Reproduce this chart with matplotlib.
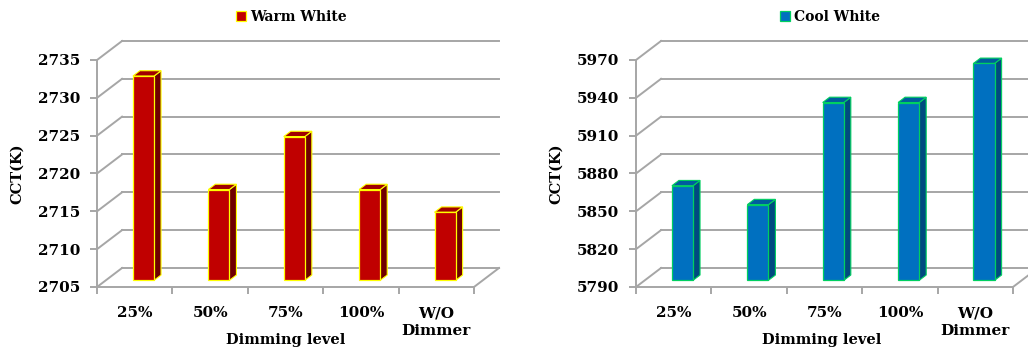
import matplotlib.pyplot as plt
from matplotlib.patches import Polygon

# CCT readings per dimming level
categories = ["25%", "50%", "75%", "100%", "W/O\nDimmer"]
warm_cct = [2732, 2717, 2724, 2717, 2714]
cool_cct = [5865, 5850, 5931, 5931, 5962]
warm_ticks = [2705, 2710, 2715, 2720, 2725, 2730, 2735]
cool_ticks = [5790, 5820, 5850, 5880, 5910, 5940, 5970]

plt.rcParams["font.family"] = "DejaVu Serif"
plt.rcParams["font.weight"] = "bold"

GRID = "#a6a6a6"
fig = plt.figure(figsize=(10.28, 3.52), dpi=100)


def draw_panel(rect, values, ticks, label, face, side, top, edge, xlab_x):
    ax = fig.add_axes(rect)
    n = len(values)
    ymin, ymax = ticks[0], ticks[-1]
    ax.set_xlim(0, n)
    ax.set_ylim(ymin, ymax)
    ax.patch.set_visible(False)

    # depth of the 3d box, 25 px right and 19 px up, in data units
    (px0, py0), (px1, py1) = ax.transData.transform([(0, ymin), (1, ymin + 1)])
    ddx = 25 / (px1 - px0)
    ddy = 19 / (py1 - py0)

    # back wall gridlines + side wall diagonals
    for t in ticks:
        ax.plot([ddx, n + ddx], [t + ddy, t + ddy], color=GRID, lw=1.4,
                clip_on=False, zorder=1)
        ax.plot([0, ddx], [t, t + ddy], color=GRID, lw=1.4,
                clip_on=False, zorder=1)
    # right edge of the floor
    ax.plot([n, n + ddx], [ymin, ymin + ddy], color=GRID, lw=1.4,
            clip_on=False, zorder=1)

    # bars sit between these depth fractions
    f0, f1 = 0.35, 0.63
    xs = [i + 0.5 + f0 * ddx for i in range(n)]
    bars = ax.bar(xs, [v - ymin for v in values], width=0.28,
                  bottom=ymin + f0 * ddy, color=face, edgecolor=edge,
                  linewidth=0.9, label=label, zorder=4, clip_on=False)
    bx, by = (f1 - f0) * ddx, (f1 - f0) * ddy
    for b in bars:
        xl = b.get_x()
        xr = xl + b.get_width()
        yb = b.get_y()
        yt = yb + b.get_height()
        ax.add_patch(Polygon([(xr, yb), (xr, yt), (xr + bx, yt + by), (xr + bx, yb + by)],
                             closed=True, facecolor=side, edgecolor=edge,
                             linewidth=0.8, zorder=3, clip_on=False))
        ax.add_patch(Polygon([(xl, yt), (xr, yt), (xr + bx, yt + by), (xl + bx, yt + by)],
                             closed=True, facecolor=top, edgecolor=edge,
                             linewidth=0.8, zorder=3, clip_on=False))

    for s in ["top", "right"]:
        ax.spines[s].set_visible(False)
    for s in ["left", "bottom"]:
        ax.spines[s].set_color(GRID)
        ax.spines[s].set_linewidth(1.4)

    ax.set_yticks(ticks)
    ax.tick_params(axis="y", color=GRID, length=5, width=1.4, pad=7, labelsize=11)
    ax.set_xticks(range(n + 1))
    ax.set_xticklabels([])
    ax.tick_params(axis="x", which="major", color=GRID, length=5, width=1.4)
    ax.set_xticks([i + 0.5 for i in range(n)], minor=True)
    ax.set_xticklabels(categories, minor=True, fontsize=11, linespacing=1.35)
    ax.tick_params(axis="x", which="minor", length=0, pad=14)

    ax.text(-0.212, 0.5, "CCT(K)", transform=ax.transAxes, rotation=90,
            ha="center", va="center", fontsize=10.5)
    ax.text(xlab_x, -0.233, "Dimming level", transform=ax.transAxes,
            ha="center", va="center", fontsize=10.5)

    ax.legend(handles=[bars], loc="center", bbox_to_anchor=(0.515, 1.19),
              frameon=False, handlelength=0.7, handleheight=0.7,
              handletextpad=0.3, prop={"size": 10, "weight": "bold"})
    return ax


draw_panel([0.0944, 0.1847, 0.3667, 0.6449], warm_cct, warm_ticks, "Warm White",
           "#c00000", "#700000", "#a00000", "#ffff00", 0.501)
draw_panel([0.6187, 0.1847, 0.3667, 0.6449], cool_cct, cool_ticks, "Cool White",
           "#0070c0", "#004a80", "#005c9e", "#00d060", 0.493)

fig.savefig("out.png", dpi=100)
